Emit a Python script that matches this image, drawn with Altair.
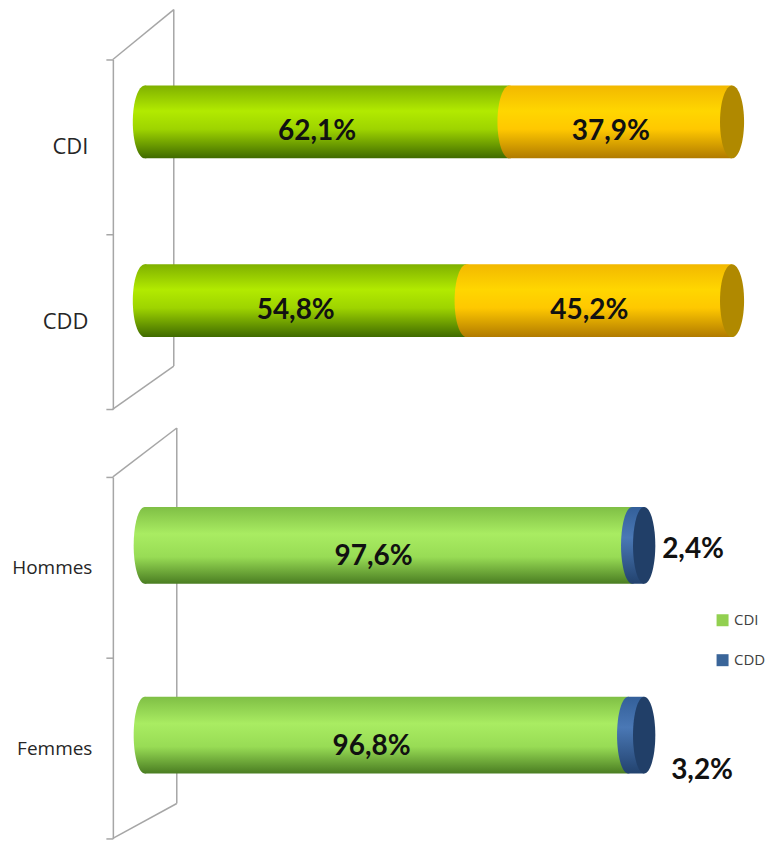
import altair as alt
import pandas as pd

# ---------------- data ----------------
top_cats = ["CDI", "CDD"]
top_part1 = [62.1, 54.8]
top_part2 = [37.9, 45.2]

bottom_cats = ["Hommes", "Femmes"]
bottom_cdi = [97.6, 96.8]
bottom_cdd = [2.4, 3.2]

legend_names = ["CDI", "CDD"]
legend_colors = ["#92d050", "#3a6599"]


def fmt(v):
    return f"{v:.1f}".replace(".", ",") + "%"


def build(cats, a_vals, b_vals, names):
    rows = []
    for c, a, b in zip(cats, a_vals, b_vals):
        rows.append(dict(cat=c, series=names[0], start=0.0, end=a, mid=a / 2, label=fmt(a)))
        rows.append(dict(cat=c, series=names[1], start=a, end=a + b, mid=a + b / 2, label=fmt(b)))
    return pd.DataFrame(rows)


top_df = build(top_cats, top_part1, top_part2, ["S1", "S2"])
bot_df = build(bottom_cats, bottom_cdi, bottom_cdd, legend_names)

# ---------------- styles ----------------
def grad(stops):
    return alt.LinearGradient(
        gradient="linear", x1=0, y1=0, x2=0, y2=1,
        stops=[alt.GradientStop(color=c, offset=o) for o, c in stops],
    )

g_top_green = grad([(0, "#7fb000"), (0.35, "#b2ea00"), (0.6, "#9ed400"), (1, "#3f6a00")])
g_top_yellow = grad([(0, "#f2b800"), (0.35, "#ffd600"), (0.6, "#ffc800"), (1, "#b07a00")])
g_bot_green = grad([(0, "#7fbf45"), (0.35, "#a9ec62"), (0.65, "#98dc55"), (1, "#4a7d22")])
g_bot_blue = grad([(0, "#335f99"), (0.4, "#4a78b5"), (1, "#22426e")])

WALL = "#a6a6a6"
AXIS_FONT = "Open Sans"
VAL_FONT = "Lato"


def axis_layer(df, cats, font_size, label_pad):
    ax = alt.Axis(
        title=None, orient="left", offset=32, tickBand="extent", tickSize=7,
        tickColor=WALL, tickWidth=1.5, domainColor=WALL, domainWidth=1.5,
        labelFont=AXIS_FONT, labelFontSize=font_size, labelColor="#262626",
        labelPadding=label_pad, grid=False,
    )
    return alt.Chart(df).mark_tick(opacity=0).encode(
        y=alt.Y("cat:N", sort=cats,
                scale=alt.Scale(type="band", domain=cats, paddingInner=0, paddingOuter=0),
                axis=ax)
    )


def wall(back_x, top_y, back_bottom, height):
    d = pd.DataFrame({"k": [0]})
    base = alt.Chart(d).mark_rule(color=WALL, strokeWidth=1.5)
    return [
        base.encode(x=alt.value(back_x), y=alt.value(top_y), y2=alt.value(back_bottom)),
        base.encode(x=alt.value(-32), x2=alt.value(back_x), y=alt.value(0), y2=alt.value(top_y)),
        base.encode(x=alt.value(-32), x2=alt.value(back_x), y=alt.value(height), y2=alt.value(back_bottom)),
    ]


def bars(df, cats, p_in, p_out, bar_h, yoff, half_w, g1, g2, cap_color, s1, s2):
    size = bar_h * bar_h
    ell = f"M0,-1A{half_w},1,0,1,1,0,1A{half_w},1,0,1,1,0,-1Z"
    xsc = alt.Scale(domain=[0, 100])
    y = alt.Y("cat:N", sort=cats,
              scale=alt.Scale(type="band", domain=cats, paddingInner=p_in, paddingOuter=p_out),
              axis=None)
    base = alt.Chart(df).encode(y=y)

    def seg(series, g):
        b = base.transform_filter(alt.datum.series == series)
        bar = b.mark_bar(fill=g, yOffset=yoff).encode(
            x=alt.X("start:Q", scale=xsc, axis=None), x2="end:Q")
        start = b.mark_point(shape=ell, filled=True, fill=g, size=size, yOffset=yoff,
                             strokeWidth=0, opacity=1).encode(
            x=alt.X("start:Q", scale=xsc, axis=None))
        return [bar, start]

    cap = base.transform_filter(alt.datum.series == s2).mark_point(
        shape=ell, filled=True, fill=cap_color, size=size, yOffset=yoff,
        strokeWidth=0, opacity=1).encode(x=alt.X("end:Q", scale=xsc, axis=None))
    return base, seg(s1, g1) + seg(s2, g2) + [cap], xsc


def val_text(base, xsc, field, yoff, dx, align="center"):
    return base.mark_text(font=VAL_FONT, fontSize=28, fontWeight="bold", color="#111111",
                          yOffset=yoff, dx=dx, align=align, baseline="middle").encode(
        x=alt.X(field, scale=xsc, axis=None), text="label:N")


# ---------------- top panel ----------------
tbase, tlayers, txs = bars(top_df, top_cats, 0.592, 0.2737, 73, -23, 0.33,
                           g_top_green, g_top_yellow, "#b08900", "S1", "S2")
ttext = val_text(tbase, txs, "mid:Q", -12.5, -10)
top = alt.layer(
    axis_layer(top_df, top_cats, 22, 18), *wall(29, -50, 307, 350), *tlayers, ttext
).resolve_scale(y="independent").properties(width=588, height=350)

# ---------------- bottom panel ----------------
bbase, blayers, bxs = bars(bot_df, bottom_cats, 0.595, 0.25, 77, -17.5, 0.29,
                           g_bot_green, g_bot_blue, "#213f68", "CDI", "CDD")
btext_in = val_text(bbase.transform_filter(alt.datum.series == "CDI"), bxs, "mid:Q", -6, -15)
btext_h = val_text(bbase.transform_filter((alt.datum.series == "CDD") & (alt.datum.cat == "Hommes")),
                   bxs, "end:Q", -13, 18, align="left")
btext_f = val_text(bbase.transform_filter((alt.datum.series == "CDD") & (alt.datum.cat == "Femmes")),
                   bxs, "end:Q", 18, 27, align="left")
legend_layer = bbase.mark_square(opacity=0, size=10).encode(
    x=alt.X("end:Q", scale=bxs, axis=None),
    color=alt.Color("series:N", scale=alt.Scale(domain=legend_names, range=legend_colors),
                    legend=alt.Legend(orient="none", legendX=571, legendY=554, title=None,
                                      symbolType="square", symbolSize=144, symbolOpacity=1,
                                      symbolStrokeWidth=0, labelFont=AXIS_FONT,
                                      labelFontSize=15, labelColor="#404040", labelOffset=4,
                                      rowPadding=24, padding=0)),
)
bottom = alt.layer(
    axis_layer(bot_df, bottom_cats, 19, 14), *wall(32, -49, 327, 362), *blayers,
    btext_in, btext_h, btext_f, legend_layer
).resolve_scale(y="independent").properties(width=500, height=362)

chart = alt.vconcat(top, bottom, spacing=68, bounds="flush").properties(
    padding={"top": 0, "left": 3, "right": 0, "bottom": 0},
    background="white",
).configure_view(stroke=None)

chart.save("out.html", embed_options={"renderer": "svg", "actions": False})
